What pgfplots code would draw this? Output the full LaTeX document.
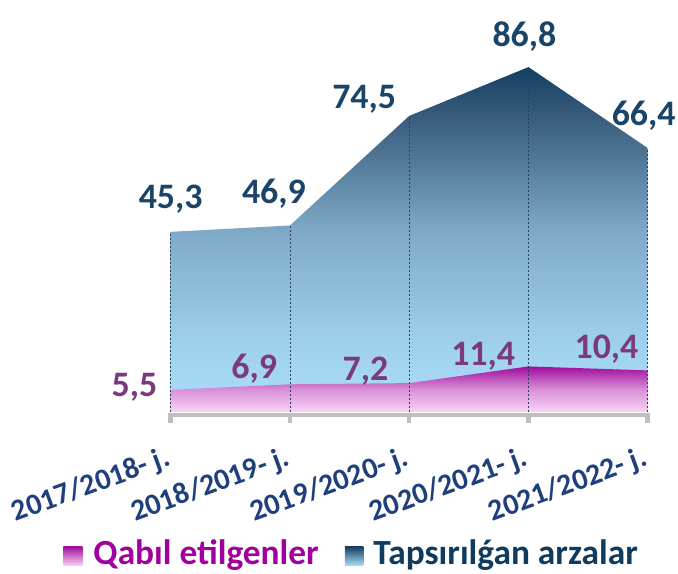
\documentclass[border=0pt]{standalone}
\usepackage{fontspec}
\setmainfont{Carlito}
\usepackage{pgfplots}
\usepackage{pgfplotstable}
\pgfplotsset{compat=1.18}

\definecolor{b0}{HTML}{ACDEFA}
\definecolor{b1}{HTML}{A0D2EE}
\definecolor{b2}{HTML}{7EAAC8}
\definecolor{b3}{HTML}{385B7B}
\definecolor{b4}{HTML}{133F62}
\definecolor{p0}{HTML}{F9D3F5}
\definecolor{p1}{HTML}{D88FD6}
\definecolor{p2}{HTML}{A00D9D}
\definecolor{axgray}{HTML}{BFBFBF}
\definecolor{dropc}{HTML}{23415F}
\definecolor{toplab}{HTML}{1A4568}
\definecolor{botlab}{HTML}{7B3A7E}
\definecolor{ticklab}{HTML}{1F3F7D}
\definecolor{legmag}{HTML}{A0009E}
\definecolor{legnavy}{HTML}{0F3C5E}

\pgfdeclareverticalshading{bluearea}{100bp}{color(0bp)=(b0); color(25bp)=(b0); color(34bp)=(b1); color(51bp)=(b2); color(68bp)=(b3); color(75bp)=(b4); color(100bp)=(b4)}

\pgfplotstableread{
x top bot tdx tdy bdx bdy
0 45.3 5.5 0 32.7 -36.2 2.9
1 46.9 6.9 -16 31.7 -35.8 15.3
2 74.5 7.2 -45 16.7 -43.7 12.1
3 86.8 11.4 -4 30.7 -45.3 10
4 66.4 10.4 -4 32 -41.2 21.4
}\datatable

\begin{document}
\begin{tikzpicture}
\begin{axis}[
  x=119.25bp, y=3.97bp,
  xmin=-0.02, xmax=4.02, ymin=-0.83, ymax=100,
  axis x line*=bottom, axis y line=none,
  x axis line style={-, line width=4.5bp, draw=axgray},
  xtick={0,1,2,3,4},
  xticklabels={2017/2018- j.,2018/2019- j.,2019/2020- j.,2020/2021- j.,2021/2022- j.},
  tick align=outside, major tick length=8bp,
  xtick style={line width=4.5bp, draw=axgray},
  xticklabel style={font=\fontsize{30}{34}\selectfont\bfseries, text=ticklab, rotate=20, anchor=north east, inner sep=0pt, xshift=-13.4bp, yshift=-18.5bp},
  clip=false,
]
\addplot[draw=none, shading=bluearea] table[x=x,y=top]{\datatable} \closedcycle;
\addplot[draw=none, top color=p2, bottom color=p0, middle color=p1] table[x=x,y=bot]{\datatable} \closedcycle;
\addplot[ycomb, mark=none, draw=dropc, line width=0.75bp, dash pattern=on 2bp off 2bp] table[x=x,y=top]{\datatable};

\addplot[draw=none, mark=none, point meta=y,
  visualization depends on={\thisrow{tdx}\as\dx},
  visualization depends on={\thisrow{tdy}\as\dy},
  nodes near coords={\pgfmathprintnumber[fixed,fixed zerofill,precision=1,use comma,assume math mode=true]{\pgfplotspointmeta}},
  every node near coord/.append style={anchor=center, inner sep=0pt, xshift=\dx bp, yshift=\dy bp, font=\fontsize{36}{40}\selectfont\bfseries, text=toplab}]
  table[x=x,y=top]{\datatable};
\addplot[draw=none, mark=none, point meta=y,
  visualization depends on={\thisrow{bdx}\as\dx},
  visualization depends on={\thisrow{bdy}\as\dy},
  nodes near coords={\pgfmathprintnumber[fixed,fixed zerofill,precision=1,use comma,assume math mode=true]{\pgfplotspointmeta}},
  every node near coord/.append style={anchor=center, inner sep=0pt, xshift=\dx bp, yshift=\dy bp, font=\fontsize{36}{40}\selectfont\bfseries, text=botlab}]
  table[x=x,y=bot]{\datatable};

\coordinate (O) at (axis cs:0,0);
\coordinate (bbsw) at (axis cs:-1.4314,-40.88);
\coordinate (bbne) at (axis cs:4.2541,103.7);
\end{axis}
% legend
\shade[top color=p2, bottom color=p0] ([xshift=-107.4bp,yshift=-154bp]O) rectangle ([xshift=-88.4bp,yshift=-135bp]O);
\node[anchor=base west, inner sep=0pt, font=\fontsize{35.5}{40}\selectfont\bfseries, text=legmag] at ([xshift=-77.4bp,yshift=-153.3bp]O) {Qabıl etilgenler};
\shade[top color=b4, bottom color=b0] ([xshift=174.3bp,yshift=-154bp]O) rectangle ([xshift=192.6bp,yshift=-135bp]O);
\node[anchor=base west, inner sep=0pt, font=\fontsize{35.5}{40}\selectfont\bfseries, text=legnavy] at ([xshift=202.6bp,yshift=-153.3bp]O) {Tapsırılǵan arzalar};
\pgfresetboundingbox
\useasboundingbox (bbsw) rectangle (bbne);
\end{tikzpicture}
\end{document}
